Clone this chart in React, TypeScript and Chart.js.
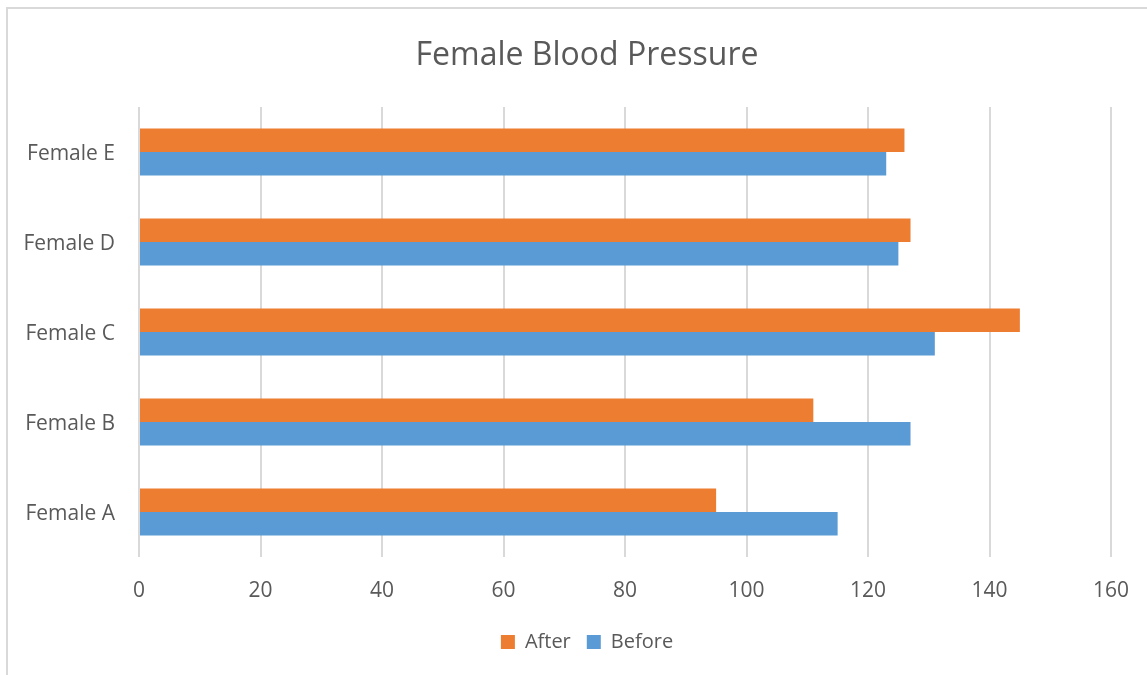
import React, { useEffect, useRef } from "react";
import { Chart, registerables } from "chart.js";

Chart.register(...registerables);

const categories = ["Female A", "Female B", "Female C", "Female D", "Female E"];
const afterValues = [95, 111, 145, 127, 126];
const beforeValues = [115, 127, 131, 125, 123];
const xTicks = [0, 20, 40, 60, 80, 100, 120, 140, 160];
const titleText = "Female Blood Pressure";

const TEXT = "#595959";
const FONT = "'Open Sans', 'Noto Sans', sans-serif";

const unclipYLabels = {
  id: "unclipYLabels",
  afterLayout(chart: any) {
    const y = chart.scales.y;
    if (y) y.left = 0;
  },
};

export default function App() {
  const canvasRef = useRef<HTMLCanvasElement | null>(null);

  useEffect(() => {
    const canvas = canvasRef.current;
    if (!canvas) return;
    const chart = new Chart(canvas, {
      type: "bar",
      data: {
        labels: categories,
        datasets: [
          {
            label: "After",
            data: afterValues,
            backgroundColor: "#ED7D31",
            borderWidth: 0,
            barPercentage: 1,
            categoryPercentage: 0.52,
          },
          {
            label: "Before",
            data: beforeValues,
            backgroundColor: "#5B9BD5",
            borderWidth: 0,
            barPercentage: 1,
            categoryPercentage: 0.52,
          },
        ],
      },
      plugins: [unclipYLabels],
      options: {
        indexAxis: "y",
        responsive: false,
        animation: false,
        maintainAspectRatio: false,
        layout: { padding: { left: 63, right: 36, top: 0, bottom: 13 } },
        plugins: {
          title: {
            display: true,
            text: titleText,
            color: TEXT,
            font: { family: FONT, size: 32, weight: "normal", lineHeight: 1.2 },
            padding: { top: 37, bottom: 31.6 },
          },
          legend: {
            display: true,
            position: "bottom",
            labels: {
              color: TEXT,
              font: { family: FONT, size: 20 },
              boxWidth: 14,
              boxHeight: 14,
              padding: 16,
            },
          },
          tooltip: { enabled: false },
        },
        scales: {
          x: {
            min: 0,
            max: 160,
            afterBuildTicks: (scale: any) => {
              scale.ticks = xTicks.map((v) => ({ value: v }));
            },
            afterFit: (scale: any) => {
              scale.height = 59;
              scale.paddingRight = 0;
              scale.paddingLeft = 0;
            },
            grid: {
              display: true,
              color: "#d9d9d9",
              lineWidth: 2,
              drawTicks: false,
            },
            border: { display: false },
            ticks: {
              color: TEXT,
              font: { family: FONT, size: 21 },
              padding: 21,
            },
          },
          y: {
            reverse: true,
            afterFit: (scale: any) => {
              scale.width = 76;
            },
            grid: { display: false, drawTicks: false },
            border: { display: false },
            ticks: {
              color: TEXT,
              font: { family: FONT, size: 21 },
              padding: 24,
              labelOffset: 2,
            },
          },
        },
      },
    });
    return () => chart.destroy();
  }, []);

  return (
    <div
      style={{
        position: "fixed",
        left: 0,
        top: 0,
        width: 1147,
        height: 675,
        overflow: "hidden",
        background: "#ffffff",
      }}
    >
      <div
        style={{
          position: "absolute",
          left: 6,
          top: 7,
          width: 1160,
          height: 690,
          border: "2px solid #d9d9d9",
          boxSizing: "border-box",
        }}
      />
      <canvas
        ref={canvasRef}
        width={1147}
        height={675}
        style={{ position: "absolute", left: 0, top: 0, width: 1147, height: 675 }}
      />
    </div>
  );
}
